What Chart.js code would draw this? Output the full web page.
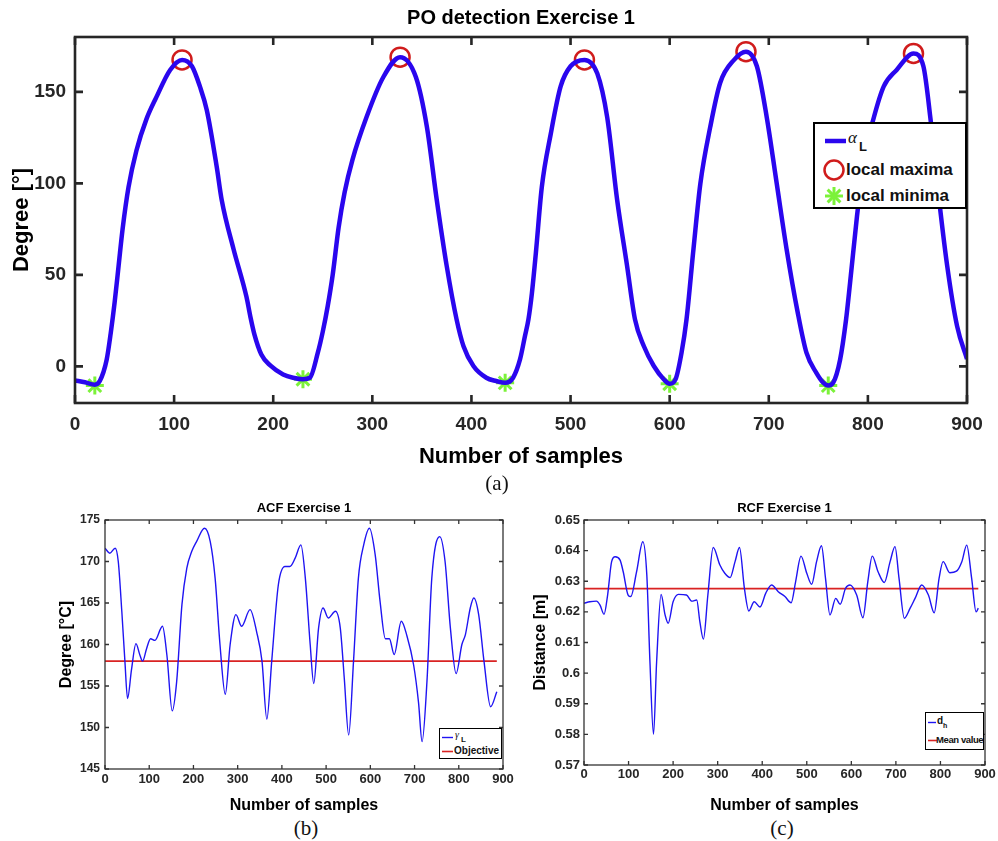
<!DOCTYPE html>
<html>
<head>
<meta charset="utf-8">
<script src="https://cdn.jsdelivr.net/npm/chart.js@4.4.1/dist/chart.umd.min.js"></script>
<style>
  body { margin: 0; background: #fff; width: 998px; height: 841px; position: relative; overflow: hidden;
         font-family: "Liberation Sans", Arial, Helvetica, sans-serif; }
  .panel { position: absolute; }
  .cap { position: absolute; font-family: "Liberation Serif", "Times New Roman", serif; font-size: 21px;
         color: #111; transform: translate(-50%, -50%); }
  .legend { position: absolute; box-sizing: border-box; background: #fff; border: 2px solid #000;
            font-weight: bold; color: #111; }
  .legend span { position: absolute; white-space: nowrap; }
  .legend svg { position: absolute; left: 0; top: 0; }
</style>
</head>
<body>
<div class="panel" style="left:0;top:0"><canvas id="poChart" width="998" height="470"></canvas></div>
<div class="panel" style="left:0;top:495px"><canvas id="acfChart" width="520" height="320"></canvas></div>
<div class="panel" style="left:515px;top:495px"><canvas id="rcfChart" width="483" height="320"></canvas></div>

<div class="cap" style="left:497px;top:483px">(a)</div>
<div class="cap" style="left:306px;top:828px">(b)</div>
<div class="cap" style="left:782px;top:828px">(c)</div>

<!-- legend (a) -->
<div class="legend" style="left:813px;top:122px;width:154px;height:87px">
  <svg width="150" height="83">
    <line x1="10" y1="17" x2="31" y2="17" stroke="#2a06ee" stroke-width="4.5"/>
    <circle cx="19" cy="46" r="9.5" fill="none" stroke="#d01c1c" stroke-width="2.5"/>
    <g stroke="#7cf23a" stroke-width="3">
      <line x1="10" y1="72" x2="28" y2="72"/><line x1="19" y1="63" x2="19" y2="81"/>
      <line x1="12.6" y1="65.6" x2="25.4" y2="78.4"/><line x1="12.6" y1="78.4" x2="25.4" y2="65.6"/>
    </g>
  </svg>
  <span style="left:33px;top:4px;font:italic 17px 'Liberation Serif',serif;line-height:20px">α</span>
  <span style="left:44px;top:16px;font-size:13px;line-height:14px">L</span>
  <span style="left:31px;top:36px;font-size:17px;line-height:20px">local maxima</span>
  <span style="left:31px;top:62px;font-size:17px;line-height:20px">local minima</span>
</div>

<!-- legend (b) -->
<div class="legend" style="left:439px;top:728px;width:63px;height:31px;border-width:1.5px">
  <svg width="60" height="28">
    <line x1="2" y1="8.5" x2="13" y2="8.5" stroke="#1f14f2" stroke-width="1.4"/>
    <line x1="2" y1="22.5" x2="13" y2="22.5" stroke="#d92323" stroke-width="1.6"/>
  </svg>
  <span style="left:15px;top:0px;font:italic 10px 'Liberation Serif',serif;line-height:12px">γ</span>
  <span style="left:21px;top:6px;font-size:8px;line-height:10px">L</span>
  <span style="left:14px;top:16px;font-size:10px;line-height:12px">Objective</span>
</div>

<!-- legend (c) -->
<div class="legend" style="left:925px;top:712px;width:59px;height:38px;border-width:1.5px">
  <svg width="56" height="35">
    <line x1="2" y1="9.5" x2="10" y2="9.5" stroke="#1f14f2" stroke-width="1.4"/>
    <line x1="2" y1="27.5" x2="11" y2="27.5" stroke="#d92323" stroke-width="1.6"/>
  </svg>
  <span style="left:11px;top:2px;font-size:10px;line-height:12px">d</span>
  <span style="left:17px;top:8px;font-size:7px;line-height:9px">h</span>
  <span style="left:10px;top:21px;font-size:9.5px;line-height:12px;letter-spacing:-0.4px">Mean value</span>
</div>

<script>
// ---- data ----
const xTicks = [0, 100, 200, 300, 400, 500, 600, 700, 800, 900];

// (a) PO detection
const alphaSample = [0,10,20,25,32,36,40,44,48,54,62,72,82,96,108,118,126,133,143,148,160,173,177,181,188,197,210,
  220,230,237,245,250,255,260,266,272,280,294,311,328,344,355,365,375,385,392,402,415,425,434,442,449,454,457.5,461,
  465,471,480,490,500,514,527,537,547,557,565,574,584,594,600,606,612,617,624,631,641,651,665,677,688,698,708,718,
  729,738,748,755,760,765,772,778,782,789,796,806,816,829,846,856,863,870,880,890,900];
const alphaDeg = [-7.7,-8.7,-10,-8,3.8,18,35,55,75,98,118,135,147,162,167.5,164,153,140,109,91,64,38,27,17.5,
  6.5,0.5,-4.4,-6.2,-7,-6.2,7.5,19,33,50,76,95,113,136,158,169,158,131,91,55,25.7,11,0.2,-6.2,-8,-9,-6.2,3.8,16.6,
  25.7,40,62,98,127,153,164,167.5,160,136,91,55,25.7,11,0.2,-7,-9.5,-7,7.5,25.7,64,100,131,155,167.5,172,164,136,
  100,64,30,7.5,-3.5,-8.9,-10.5,-8.9,3.8,25.7,45.6,82,113,136,153,162,171,164,136,100,55,22,4];
const maxSample = [108, 328, 514, 677, 846];
const maxDeg = [167.5, 169, 167.5, 172, 171];
const minSample = [20, 230, 434, 600, 760];
const minDeg = [-10.5, -7, -9, -9.5, -10.5];
const alphaTicks = [0, 50, 100, 150];

// (b) ACF
const acfSample = [0,11,23,30,38,45,51,60,70,79,85,94,103,113,130,140,152,162,174,185,196,207,225,238,249,260,272,
  283,296,309,328,343,355,366,377,392,407,418,430,443,453,464,472,483,493,505,521,532,541,551,562,573,585,598,611,
  622,634,643,654,670,683,698,709,717,728,739,757,769,781,794,807,815,826,834,845,857,872,886];
const acfDeg = [171.6,171,171.6,170,164,158,153.5,157,160.1,158.7,158,159.5,160.7,160.5,162.2,158.7,152,155.5,164.8,
  169.2,171.2,172.4,174,172.4,168,160,154,160,163.6,162.2,164.2,161.5,158,151,158,167.2,169.4,169.4,170.4,172,168,
  160,155.3,162,164.4,163.2,164,162,156,149.1,158,168,172,174,170.8,165.2,160.7,160.7,158.8,162.8,161,157.5,153,
  148.3,155.5,168,173,170,162,156.5,160,161.2,164.4,165.6,163.6,158,152.5,154.3];
const objective = 158;
const acfTicks = [145, 150, 155, 160, 165, 170, 175];

// (c) RCF
const rcfSample = [0,13,28,36,45,53,62,70,81,88,99,105,118,132,141,148,156,163,173,182,189,200,212,230,242,253,260,
  268,278,290,305,316,328,339,349,360,370,382,395,408,421,436,451,465,475,487,500,511,522,533,542,552,565,575,587,
  597,612,626,637,647,660,674,687,698,707,719,732,743,758,773,786,797,806,821,836,848,859,870,880,885];
const rcfDist = [0.6228,0.6233,0.6235,0.6222,0.6192,0.6255,0.6364,0.638,0.6369,0.6331,0.6255,0.625,0.6331,0.6429,
  0.632,0.6037,0.58,0.6037,0.6257,0.619,0.6163,0.6233,0.6257,0.6255,0.6235,0.6239,0.6168,0.6111,0.6255,0.641,0.6353,
  0.6326,0.6312,0.6364,0.641,0.6277,0.6203,0.6233,0.6216,0.6261,0.6288,0.6266,0.625,0.623,0.6299,0.6382,0.6326,0.629,
  0.6364,0.6416,0.631,0.619,0.6244,0.6225,0.6277,0.6288,0.6255,0.6181,0.6299,0.6382,0.6331,0.6296,0.6364,0.6413,
  0.631,0.6179,0.6212,0.6244,0.6288,0.6255,0.6197,0.631,0.6364,0.6328,0.6333,0.6364,0.6418,0.631,0.62,0.6212];
const meanValue = 0.6276;
const rcfTicks = [0.57, 0.58, 0.59, 0.6, 0.61, 0.62, 0.63, 0.64, 0.65];

// ---- drawing ----
const FONT = '"Liberation Sans", Arial, Helvetica, sans-serif';
const INK = '#262626';
const bold = (size) => ({ family: FONT, size, weight: 'bold' });
const pairs = (xs, ys) => xs.map((x, i) => ({ x, y: ys[i] }));
const flat = (xs, v) => [{ x: xs[0], y: v }, { x: xs[xs.length - 1], y: v }];

// MATLAB style box with inward ticks on all four sides
const matlabBox = {
  id: 'matlabBox',
  afterDatasetsDraw(chart, args, opts) {
    const { ctx, chartArea: a, scales } = chart;
    const L = opts.tick;
    ctx.save();
    ctx.strokeStyle = opts.color;
    ctx.lineWidth = opts.width;
    ctx.beginPath();
    scales.x.ticks.forEach((t) => {
      const px = scales.x.getPixelForValue(t.value);
      ctx.moveTo(px, a.bottom); ctx.lineTo(px, a.bottom - L);
      ctx.moveTo(px, a.top); ctx.lineTo(px, a.top + L);
    });
    scales.y.ticks.forEach((t) => {
      const py = scales.y.getPixelForValue(t.value);
      ctx.moveTo(a.left, py); ctx.lineTo(a.left + L, py);
      ctx.moveTo(a.right, py); ctx.lineTo(a.right - L, py);
    });
    ctx.stroke();
    ctx.strokeRect(a.left, a.top, a.right - a.left, a.bottom - a.top);
    ctx.restore();
  }
};

function makeChart(id, c) {
  return new Chart(document.getElementById(id).getContext('2d'), {
    type: 'line',
    data: { datasets: c.datasets },
    options: {
      responsive: false,
      animation: false,
      events: [],
      layout: { padding: c.padding },
      plugins: {
        legend: { display: false },
        tooltip: { enabled: false },
        title: { display: true, text: c.title, fullSize: false, color: '#000', font: bold(c.titleSize), padding: c.titlePad },
        matlabBox: c.box
      },
      scales: {
        x: {
          type: 'linear', min: 0, max: 900,
          afterBuildTicks: (s) => { s.ticks = xTicks.map((v) => ({ value: v })); },
          afterFit: (s) => { s.height = c.xHeight; },
          grid: { display: false, drawTicks: false },
          border: { display: false },
          ticks: { font: bold(c.xTickSize), color: INK, padding: c.xTickPad, maxRotation: 0, autoSkip: false, callback: (v) => String(v) },
          title: { display: true, text: 'Number of samples', color: '#000', font: bold(c.xTitleSize), padding: { top: c.xTitlePad, bottom: 0 } }
        },
        y: {
          type: 'linear', min: c.yMin, max: c.yMax,
          afterBuildTicks: (s) => { s.ticks = c.yTicks.map((v) => ({ value: v })); },
          afterFit: (s) => { s.width = c.yWidth; },
          grid: { display: false, drawTicks: false },
          border: { display: false },
          ticks: { font: bold(c.yTickSize), color: INK, padding: c.yTickPad, autoSkip: false, callback: (v) => String(v) },
          title: { display: true, text: c.yTitle, color: '#000', font: bold(c.yTitleSize), padding: { top: c.yTitlePad, bottom: 0 } }
        }
      }
    },
    plugins: [matlabBox]
  });
}

document.addEventListener('DOMContentLoaded', () => {
  makeChart('poChart', {
    title: 'PO detection Exercise 1', titleSize: 20, titlePad: { top: 6, bottom: 7 },
    padding: { left: 0, right: 31, top: 0, bottom: 0 },
    xHeight: 67, xTickSize: 19, xTickPad: 10, xTitleSize: 22, xTitlePad: 8,
    yWidth: 75, yMin: -20, yMax: 180, yTicks: alphaTicks, yTickSize: 19, yTickPad: 9,
    yTitle: 'Degree [°]', yTitleSize: 22, yTitlePad: 9,
    box: { color: INK, width: 2.6, tick: 8 },
    datasets: [
      { data: pairs(alphaSample, alphaDeg), borderColor: '#2a06ee', borderWidth: 4.5, pointRadius: 0,
        cubicInterpolationMode: 'monotone' },
      { data: pairs(maxSample, maxDeg), showLine: false, pointStyle: 'circle', pointRadius: 9.5,
        pointBorderColor: '#d01c1c', pointBackgroundColor: 'rgba(0,0,0,0)', pointBorderWidth: 2.5, clip: false },
      { data: pairs(minSample, minDeg), showLine: false, pointStyle: 'star', pointRadius: 9,
        pointBorderColor: '#7cf23a', pointBackgroundColor: '#7cf23a', pointBorderWidth: 3, clip: false }
    ]
  });

  makeChart('acfChart', {
    title: 'ACF Exercise 1', titleSize: 13, titlePad: { top: 6, bottom: 3.4 },
    padding: { left: 50, right: 17, top: 0, bottom: 0 },
    xHeight: 46, xTickSize: 13, xTickPad: 3, xTitleSize: 16, xTitlePad: 7,
    yWidth: 55, yMin: 145, yMax: 175, yTicks: acfTicks, yTickSize: 12, yTickPad: 5,
    yTitle: 'Degree [°C]', yTitleSize: 16, yTitlePad: 7,
    box: { color: '#333', width: 1.3, tick: 4 },
    datasets: [
      { data: pairs(acfSample, acfDeg), borderColor: '#1f14f2', borderWidth: 1.4, pointRadius: 0,
        cubicInterpolationMode: 'monotone' },
      { data: flat(acfSample, objective), borderColor: '#d92323', borderWidth: 1.6, pointRadius: 0 }
    ]
  });

  makeChart('rcfChart', {
    title: 'RCF Exercise 1', titleSize: 13, titlePad: { top: 6, bottom: 3.4 },
    padding: { left: 0, right: 13, top: 0, bottom: 0 },
    xHeight: 50, xTickSize: 13, xTickPad: 2, xTitleSize: 16, xTitlePad: 7,
    yWidth: 69, yMin: 0.57, yMax: 0.65, yTicks: rcfTicks, yTickSize: 13, yTickPad: 4,
    yTitle: 'Distance [m]', yTitleSize: 16, yTitlePad: 16,
    box: { color: '#333', width: 1.3, tick: 4 },
    datasets: [
      { data: pairs(rcfSample, rcfDist), borderColor: '#1f14f2', borderWidth: 1.4, pointRadius: 0,
        cubicInterpolationMode: 'monotone' },
      { data: flat(rcfSample, meanValue), borderColor: '#d92323', borderWidth: 1.8, pointRadius: 0 }
    ]
  });
});
</script>
</body>
</html>
